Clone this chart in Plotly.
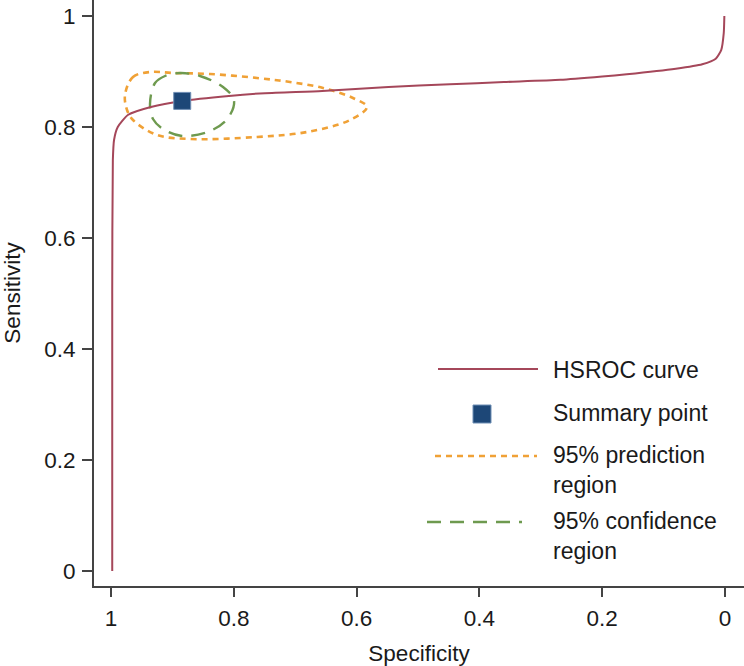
import plotly.graph_objects as go

# ---- data ----
curve_spec = [0.998, 0.998, 0.997, 0.995, 0.989, 0.972, 0.935, 0.884, 0.808, 0.749,
              0.656, 0.548, 0.448, 0.360, 0.268, 0.200, 0.160, 0.080, 0.037, 0.015,
              0.006, 0.002, 0.001]
curve_sens = [0.0, 0.50, 0.74, 0.777, 0.800, 0.822, 0.836, 0.847, 0.856, 0.861,
              0.865, 0.872, 0.877, 0.881, 0.885, 0.891, 0.895, 0.905, 0.913, 0.923,
              0.939, 0.969, 1.0]

summary_spec = [0.884]
summary_sens = [0.847]

conf_spec = [0.9365, 0.9283, 0.912, 0.8876, 0.855, 0.8176, 0.7997, 0.8094, 0.8388,
             0.8844, 0.9153, 0.9316, 0.9365]
conf_sens = [0.8414, 0.8793, 0.8919, 0.8973, 0.8919, 0.8721, 0.8486, 0.8162, 0.7928,
             0.7838, 0.7964, 0.8144, 0.8414]

pred_spec = [0.9772, 0.9642, 0.9365, 0.899, 0.8388, 0.7622, 0.7085, 0.6547, 0.6059,
             0.5831, 0.6107, 0.6808, 0.7622, 0.8713, 0.9251, 0.9642, 0.9739, 0.9772]
pred_sens = [0.8577, 0.8901, 0.8991, 0.8973, 0.8955, 0.8883, 0.8811, 0.8703, 0.8523,
             0.8360, 0.8126, 0.7910, 0.7820, 0.7784, 0.7856, 0.8126, 0.8306, 0.8577]

tick_vals = [0, 0.2, 0.4, 0.6, 0.8, 1]
tick_text = ["0", "0.2", "0.4", "0.6", "0.8", "1"]
legend_labels = ["HSROC curve", "Summary point", "95% prediction<br>region",
                 "95% confidence<br>region"]

# ---- styles ----
C_CURVE = "#a5475a"
C_POINT = "#1d4777"
C_PRED = "#f0a136"
C_CONF = "#6e9a4f"
FONT = "Liberation Sans, Arial, sans-serif"
TXT = "#1a1a1a"
FS = 22.5

fig = go.Figure()
fig.add_trace(go.Scatter(x=pred_spec, y=pred_sens, mode="lines",
                         line=dict(color=C_PRED, width=2.6, dash="6px,5px", shape="spline", smoothing=1.0),
                         showlegend=False, hoverinfo="skip"))
fig.add_trace(go.Scatter(x=conf_spec, y=conf_sens, mode="lines",
                         line=dict(color=C_CONF, width=2.4, dash="14px,9px", shape="spline", smoothing=1.0),
                         showlegend=False, hoverinfo="skip"))
fig.add_trace(go.Scatter(x=curve_spec, y=curve_sens, mode="lines",
                         line=dict(color=C_CURVE, width=2, shape="spline", smoothing=0.6),
                         showlegend=False, hoverinfo="skip"))
fig.add_trace(go.Scatter(x=summary_spec, y=summary_sens, mode="markers",
                         marker=dict(symbol="square", size=17, color=C_POINT,
                                     line=dict(color="#6f8fb5", width=1)),
                         showlegend=False, hoverinfo="skip"))

# ---- manual legend (pixel layout converted to paper coords) ----
L, B, W, H = 94, 586, 650, 586
def px(x):
    return (x - L) / W
def py(y):
    return (B - y) / H

shapes = []
shapes.append(dict(type="line", xref="paper", yref="paper", x0=px(438), x1=px(538),
                   y0=py(369), y1=py(369), line=dict(color=C_CURVE, width=2)))
shapes.append(dict(type="rect", xref="paper", yref="paper", x0=px(473), x1=px(491),
                   y0=py(423), y1=py(405), fillcolor=C_POINT,
                   line=dict(color="#6f8fb5", width=1)))
shapes.append(dict(type="line", xref="paper", yref="paper", x0=px(435), x1=px(537),
                   y0=py(456), y1=py(456), line=dict(color=C_PRED, width=2.6, dash="6px,5px")))
shapes.append(dict(type="line", xref="paper", yref="paper", x0=px(427), x1=px(522),
                   y0=py(522), y1=py(522), line=dict(color=C_CONF, width=2.4, dash="14px,9px")))

ann = []
for lab, yc in zip(legend_labels, [370, 413, 470, 536]):
    ann.append(dict(text=lab, xref="paper", yref="paper", x=px(551), y=py(yc),
                    xanchor="left", yanchor="middle", showarrow=False, align="left",
                    font=dict(family=FONT, size=23, color=TXT)))

fig.update_layout(
    width=744, height=666,
    margin=dict(l=94, r=0, t=0, b=80),
    paper_bgcolor="white", plot_bgcolor="white",
    font=dict(family=FONT, size=FS, color=TXT),
    shapes=shapes, annotations=ann,
    showlegend=False,
)
fig.update_xaxes(range=[1.0277, -0.031], tickvals=tick_vals, ticktext=tick_text,
                 showgrid=False, zeroline=False, showline=True, linecolor="#444444",
                 linewidth=2, ticks="outside", ticklen=9, tickwidth=2, tickcolor="#444444",
                 title=dict(text="Specificity", standoff=18, font=dict(size=FS)),
                 automargin=False, tickfont=dict(size=FS), ticklabelstandoff=2)
fig.update_yaxes(range=[-0.027, 1.0288], tickvals=tick_vals, ticktext=tick_text,
                 showgrid=False, zeroline=False, showline=True, linecolor="#444444",
                 linewidth=2, ticks="outside", ticklen=10, tickwidth=2, tickcolor="#444444",
                 title=dict(text="Sensitivity", standoff=24, font=dict(size=FS)),
                 automargin=False, tickfont=dict(size=FS), ticklabelstandoff=2)

fig.write_html("out.html", config={"displayModeBar": False},
               post_script="document.body.style.margin='0';")
